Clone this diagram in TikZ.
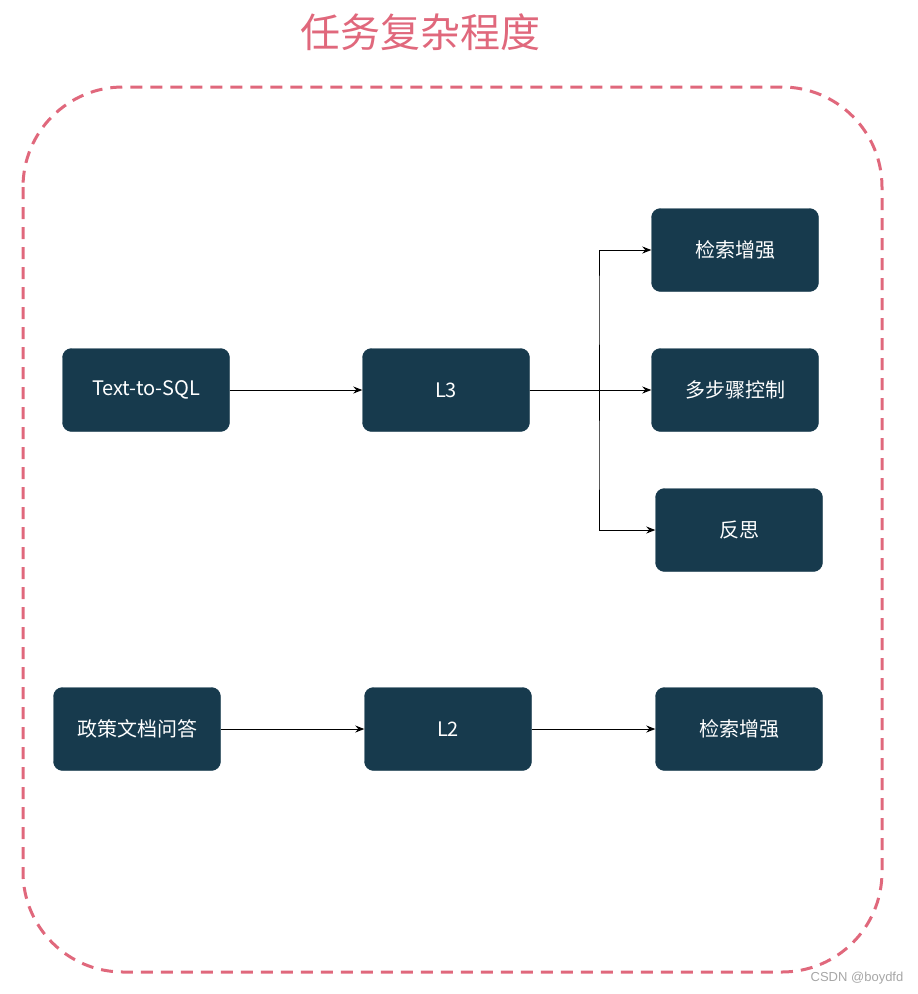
\documentclass[tikz,border=0pt]{standalone}
\usepackage{fontspec}
\setmainfont{Liberation Sans}
\newfontfamily\cjk{Noto Sans CJK SC}
\usetikzlibrary{arrows.meta}
\definecolor{boxc}{HTML}{173A4D}
\definecolor{pinkc}{HTML}{E0687C}
\begin{document}
\begin{tikzpicture}[x=1pt,y=-1pt,
 box/.style={draw=boxc,fill=boxc,rounded corners=9pt,minimum width=167pt,minimum height=83pt,text=white,font=\cjk\fontsize{20}{24}\selectfont,inner sep=0pt},
 arr/.style={-{Stealth[length=9pt,width=7pt]},line width=0.9pt}]
\useasboundingbox (0,0) rectangle (918,994);
\draw[pinkc,line width=3pt,dash pattern=on 12pt off 8pt,rounded corners=100pt] (23,87) rectangle (882,972);
\node[text=pinkc,font=\cjk\fontsize{40}{48}\selectfont] (title) at (420,32) {任务复杂程度};
\node[box] (sql) at (146,390) {Text-to-SQL};
\node[box] (l3) at (446,390) {L3};
\node[box] (r1) at (735,250) {检索增强};
\node[box] (ms) at (735,390) {多步骤控制};
\node[box] (fs) at (739,530) {反思};
\node[box] (zc) at (137,729) {政策文档问答};
\node[box] (l2) at (448,729) {L2};
\node[box] (r2) at (739,729) {检索增强};
\node[text=gray!70,font=\fontsize{13}{15}\selectfont] (wm) at (857,978) {CSDN @boydfd};
\draw[arr] (sql) -- (l3);
\draw[arr] (l3) -- (ms);
\draw[arr] (l3.east) -| (599,300) |- (r1.west);
\draw[arr] (l3.east) -| (599,450) |- (fs.west);
\draw[arr] (zc) -- (l2);
\draw[arr] (l2) -- (r2);
\end{tikzpicture}
\end{document}
